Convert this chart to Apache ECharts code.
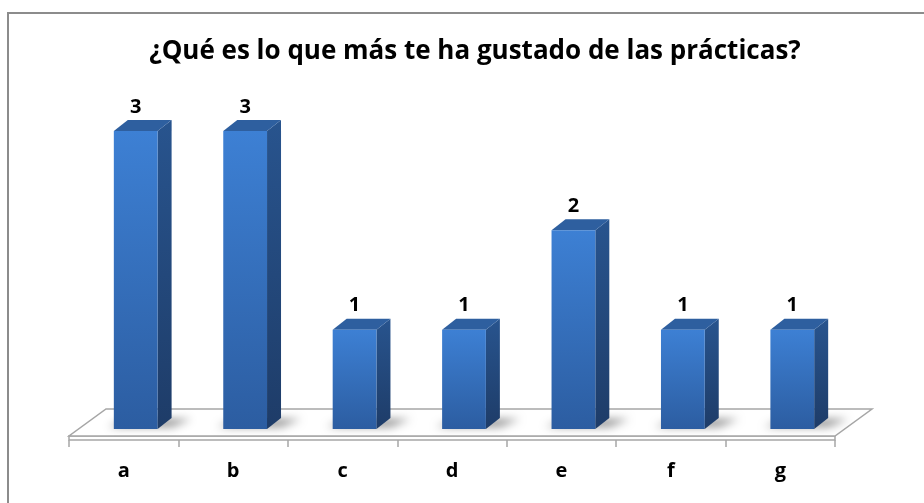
<!DOCTYPE html>
<html>
<head>
<meta charset="utf-8">
<script src="https://cdn.jsdelivr.net/npm/echarts@6/dist/echarts.min.js"></script>
<style>
  html, body { margin: 0; padding: 0; background: #fff; }
  #chart { width: 924px; height: 503px; }
</style>
</head>
<body>
<div id="chart"></div>
<script>
// Survey answers: how many people chose each option
const categories = ['a', 'b', 'c', 'd', 'e', 'f', 'g'];
const counts = [3, 3, 1, 1, 2, 1, 1];
const titleText = '¿Qué es lo que más te ha gustado de las prácticas?';

const FONT = '"Open Sans", "Noto Sans", sans-serif';
// 3D projection offsets (bar depth, floor depth)
const BAR_DX = 14, BAR_DY = 11;
const FLOOR_FRONT_DX = -12, FLOOR_FRONT_DY = 7, FLOOR_THICK = 4;
const FLOOR_BACK_DX = 25, FLOOR_BACK_DY = -20;
// the floor shadow shape is drawn off-canvas; only its blurred shadow shows
const SHADOW_SHIFT = 3000;

const chart = echarts.init(document.getElementById('chart'), null, { renderer: 'canvas' });

function renderFloor(params, api) {
  const cs = params.coordSys;
  const y0 = cs.y + cs.height;
  const left = cs.x, right = cs.x + cs.width;
  const fy = y0 + FLOOR_FRONT_DY;
  const by = y0 + FLOOR_BACK_DY;
  const line = { stroke: '#a6a6a6', lineWidth: 1.5, fill: '#ffffff' };
  return {
    type: 'group',
    children: [
      { type: 'polygon', shape: { points: [
          [left + FLOOR_FRONT_DX, fy + FLOOR_THICK], [right + FLOOR_FRONT_DX, fy + FLOOR_THICK],
          [right + FLOOR_FRONT_DX, fy], [left + FLOOR_FRONT_DX, fy]] }, style: line },
      { type: 'polygon', shape: { points: [
          [left + FLOOR_FRONT_DX, fy], [right + FLOOR_FRONT_DX, fy],
          [right + FLOOR_BACK_DX, by], [left + FLOOR_BACK_DX, by]] }, style: line }
    ]
  };
}

function renderBar(params, api) {
  const base = api.coord([api.value(0), 0]);
  const top = api.coord([api.value(0), api.value(1)]);
  const bw = api.size([1, 0])[0] * 0.4;
  const x0 = base[0] - bw / 2, x1 = base[0] + bw / 2;
  const yb = base[1], yt = top[1];
  const S = SHADOW_SHIFT;
  return {
    type: 'group',
    children: [
      // soft shadow on the floor
      { type: 'polygon', shape: { points: [
          [x0 - 6 - S, yb - 2], [x1 + 14 - S, yb - 2],
          [x1 + BAR_DX + 20 - S, yb - BAR_DY + 1], [x0 + BAR_DX - S, yb - BAR_DY + 1]] },
        style: { fill: '#000', shadowBlur: 9, shadowOffsetX: S, shadowOffsetY: 0,
                 shadowColor: 'rgba(0,0,0,0.42)' } },
      // side face
      { type: 'polygon', shape: { points: [
          [x1, yt], [x1 + BAR_DX, yt - BAR_DY], [x1 + BAR_DX, yb - BAR_DY], [x1, yb]] },
        style: { fill: new echarts.graphic.LinearGradient(0, 0, 0, 1, [
          { offset: 0, color: '#28548e' }, { offset: 1, color: '#1e3c68' }]) } },
      // top face
      { type: 'polygon', shape: { points: [
          [x0, yt], [x0 + BAR_DX, yt - BAR_DY], [x1 + BAR_DX, yt - BAR_DY], [x1, yt]] },
        style: { fill: '#2e5f9f' } },
      // front face
      { type: 'rect', shape: { x: x0, y: yt, width: bw, height: yb - yt },
        style: { fill: new echarts.graphic.LinearGradient(0, 0, 0, 1, [
          { offset: 0, color: '#3d80d4' }, { offset: 1, color: '#2c5da1' }]) } },
      // value label
      { type: 'text', x: base[0], y: yt - BAR_DY - 3,
        style: { text: String(api.value(1)), align: 'center', verticalAlign: 'bottom',
                 font: 'bold 20px ' + FONT, fill: '#000' } }
    ]
  };
}

chart.setOption({
  animation: false,
  backgroundColor: '#ffffff',
  title: {
    text: titleText,
    left: 470, top: 34, textAlign: 'center',
    textStyle: { fontFamily: FONT, fontWeight: 'bold', fontSize: 26, color: '#000' }
  },
  grid: [
    { left: 81, right: 77, top: 131, bottom: 74 },
    { left: 69, right: 89, top: 100, bottom: 63 }
  ],
  xAxis: [
    { type: 'category', gridIndex: 0, data: categories, show: false },
    { type: 'category', gridIndex: 1, data: categories,
      axisLine: { show: false },
      axisTick: { show: true, length: 7, lineStyle: { color: '#a6a6a6', width: 1.5 } },
      axisLabel: { margin: 21, fontFamily: FONT, fontWeight: 'bold', fontSize: 20, color: '#000' },
      splitLine: { show: false } }
  ],
  yAxis: [
    { type: 'value', gridIndex: 0, min: 0, max: 3, show: false },
    { type: 'value', gridIndex: 1, min: 0, max: 3, show: false }
  ],
  series: [
    { type: 'custom', xAxisIndex: 0, yAxisIndex: 0, z: 1, silent: true,
      renderItem: renderFloor, data: [[0, 0]] },
    { type: 'custom', xAxisIndex: 0, yAxisIndex: 0, z: 2,
      renderItem: renderBar,
      data: categories.map((c, i) => [i, counts[i]]) }
  ],
  graphic: [
    { type: 'polyline', z: 10, shape: { points: [[924, 13], [8, 13], [8, 503]] },
      style: { stroke: '#8c8c8c', lineWidth: 2, fill: null } }
  ]
});
</script>
</body>
</html>
